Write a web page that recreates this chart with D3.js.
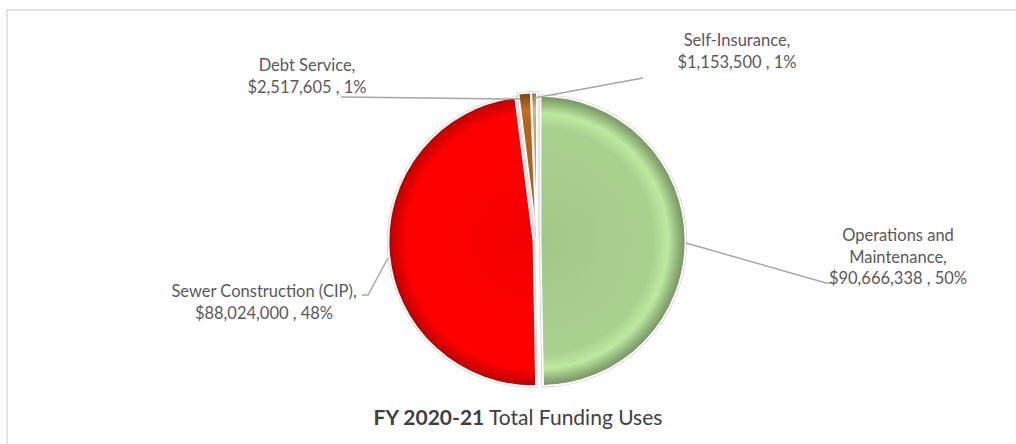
<!DOCTYPE html>
<html>
<head>
<meta charset="utf-8">
<script src="https://cdn.jsdelivr.net/npm/d3@7"></script>
<style>
  html, body { margin: 0; padding: 0; background: #fff; }
  svg { display: block; }
</style>
</head>
<body>
<svg id="chart" width="1016" height="444"></svg>
<script>
// Funding uses, FY 2020-21
const categories = ["Operations and Maintenance", "Sewer Construction (CIP)", "Debt Service", "Self-Insurance"];
const amounts = [90666338, 88024000, 2517605, 1153500];
const percentLabels = ["50%", "48%", "1%", "1%"];
const labelLines = [
  ["Operations and", "Maintenance,", "$90,666,338 , 50%"],
  ["Sewer Construction (CIP),", "$88,024,000 , 48%"],
  ["Debt Service,", "$2,517,605 , 1%"],
  ["Self-Insurance,", "$1,153,500 , 1%"]
];
const colors = ["#A9D18E", "#FF0000", "#B4621E", "#C9A46A"];

const svg = d3.select("#chart");
const W = 1016, H = 444;

// chart frame
svg.append("path")
  .attr("d", `M7,${H + 5} V10 H${W + 5}`)
  .attr("fill", "none")
  .attr("stroke", "#e3e3e3")
  .attr("stroke-width", 2);

const cx = 537, cy = 241, R = 145;
const explode = 3.5;

const pie = d3.pie().sort(null).value(d => d.value).startAngle(0).endAngle(2 * Math.PI);
const data = categories.map((c, i) => ({ name: c, value: amounts[i], color: colors[i], i }));
const arcs = pie(data);
const arc = d3.arc().innerRadius(0).outerRadius(R);

const defs = svg.append("defs");
arcs.forEach((a, i) => {
  const base = d3.color(a.data.color);
  const g = defs.append("radialGradient")
    .attr("id", "bevel" + i)
    .attr("gradientUnits", "userSpaceOnUse")
    .attr("cx", 0).attr("cy", 0).attr("r", R);
  g.append("stop").attr("offset", "0%").attr("stop-color", base.darker(0.12));
  g.append("stop").attr("offset", "78%").attr("stop-color", base);
  g.append("stop").attr("offset", "88%").attr("stop-color", base.brighter(0.3));
  g.append("stop").attr("offset", "96%").attr("stop-color", base.darker(0.55));
  g.append("stop").attr("offset", "100%").attr("stop-color", base.darker(1.0));
});

const shadow = defs.append("filter").attr("id", "soft").attr("x", "-20%").attr("y", "-20%").attr("width", "140%").attr("height", "140%");
shadow.append("feGaussianBlur").attr("stdDeviation", 0.6);

const pieG = svg.append("g").attr("transform", `translate(${cx},${cy})`);

const slices = pieG.selectAll("g.slice")
  .data(arcs)
  .join("g")
  .attr("class", "slice")
  .attr("transform", d => {
    const m = (d.startAngle + d.endAngle) / 2;
    return `translate(${Math.sin(m) * explode},${-Math.cos(m) * explode})`;
  });

// outline halo
slices.append("path")
  .attr("d", arc)
  .attr("fill", "none")
  .attr("stroke", "#c8c8c8")
  .attr("stroke-width", 3)
  .attr("filter", "url(#soft)");

slices.append("path")
  .attr("d", arc)
  .attr("fill", (d, i) => `url(#bevel${i})`)
  .attr("stroke", "#ffffff")
  .attr("stroke-width", 1.8)
  .attr("stroke-linejoin", "round");

// label text
const labelStyle = {
  family: "Lato, 'Open Sans', sans-serif",
  size: 16.5,
  color: "#595959"
};

const labelPos = [
  { x: 898, y: 237 },
  { x: 264, y: 293 },
  { x: 307, y: 67 },
  { x: 737, y: 42 }
];

// leader lines: from the slice rim to the label
const leaders = [
  [[686, 243], [826, 283], [832, 283]],
  [[388, 258], [368, 295], [362, 295]],
  [[520, 99], [341, 97]],
  [[534, 98], [643, 78]]
];

svg.append("g").selectAll("polyline")
  .data(leaders)
  .join("polyline")
  .attr("points", d => d.map(p => p.join(",")).join(" "))
  .attr("fill", "none")
  .attr("stroke", "#a6a6a6")
  .attr("stroke-width", 1.5);

const labels = svg.append("g");
labelLines.forEach((lines, i) => {
  const t = labels.append("text")
    .attr("x", labelPos[i].x)
    .attr("y", labelPos[i].y)
    .attr("text-anchor", "middle")
    .attr("font-family", labelStyle.family)
    .attr("font-size", labelStyle.size)
    .attr("fill", labelStyle.color)
    .attr("dominant-baseline", "middle");
  lines.forEach((ln, j) => {
    t.append("tspan").attr("x", labelPos[i].x).attr("dy", j === 0 ? 0 : 21.5).text(ln);
  });
});

// title
const title = svg.append("text")
  .attr("x", 518)
  .attr("y", 425)
  .attr("text-anchor", "middle")
  .attr("font-family", "Lato, 'Open Sans', sans-serif")
  .attr("font-size", 21)
  .attr("fill", "#404040");
title.append("tspan").attr("font-weight", "bold").text("FY 2020-21");
title.append("tspan").text(" Total Funding Uses");
</script>
</body>
</html>
